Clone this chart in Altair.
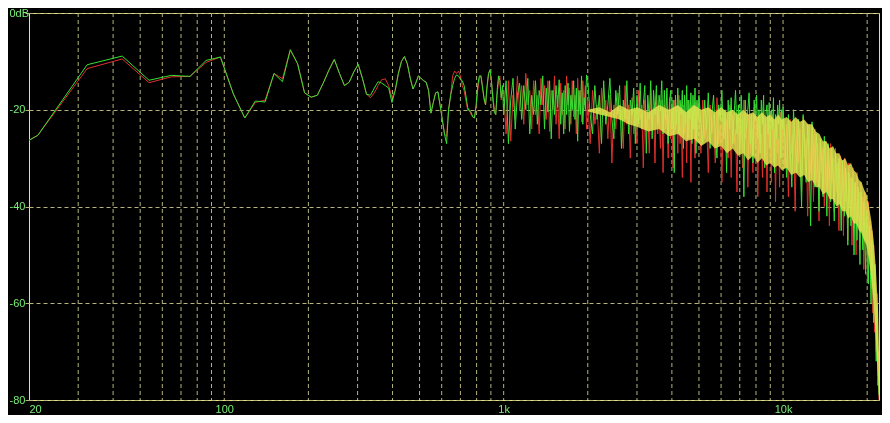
import altair as alt
import pandas as pd

# ---------------- data ----------------
freq_low = [20, 21.5, 32.3, 43.1, 53.8, 64.6, 75.4, 86.1, 96.9, 107.7, 118.4, 129.2, 140,
            150.7, 161.5, 172.3, 183, 193.8, 204.6, 215.3, 226, 236.9, 247.6, 258.4, 269.2,
            280, 290.7, 301.5, 312.2, 323, 333.8, 344.5, 355.3, 366, 376.8, 387.6, 398.3]
red_low = [-26.3, -25.3, -11.5, -9.5, -14.4, -13.2, -13.1, -10.2, -9.1, -16.7, -21.7, -18.5, -18.0,
           -12.5, -13.6, -7.6, -10.5, -16.5, -17.4, -17.0, -14.5, -11.8, -9.6, -12.5, -15.0,
           -14.3, -12.2, -10.6, -13.5, -16.8, -17.5, -16.5, -15.0, -13.8, -13.6, -15.0, -17.5]
green_low = [-26.3, -25.3, -10.7, -8.9, -13.9, -12.9, -13.1, -9.8, -9.1, -16.7, -21.7, -18.2, -18.4,
             -12.5, -14.2, -7.6, -10.5, -16.5, -17.4, -17.0, -14.5, -11.8, -9.6, -12.5, -15.0,
             -14.3, -12.2, -10.6, -13.5, -16.8, -17.0, -15.5, -14.2, -14.5, -15.0, -15.5, -18.5]

freq_mid = [409, 419.8, 430.7, 441.4, 452, 463, 473.7, 484.5, 495,
            506, 517, 527.7, 538.5, 549, 560, 570.8, 581.5, 592,
            603, 614, 624.6, 635, 646, 657, 667.5, 678, 689,
            700, 710.9, 721.6, 732, 743, 754, 764.7, 775.5, 786,
            797, 807.5, 818.5, 829, 840, 850.6, 861.3, 872, 883,
            893.7, 904.5, 915, 926, 936.9, 947.7, 958.5, 969, 980, 990.8]
red_mid = [-16, -12.5, -10, -9, -10.5, -13.5, -15.7, -14.5, -13,
           -13.5, -14, -14.3, -16, -20.7, -18.5, -16.5, -16.3, -19,
           -22, -25, -25.5, -20, -17, -13, -12, -12.5, -12,
           -13, -15, -16, -18, -20, -20, -21, -21.5, -21.7,
           -19.5, -16, -13.5, -13, -15, -18, -19, -15.5, -12.5,
           -12, -14.5, -17, -20, -21, -17, -14, -13, -18, -16]
green_mid = [-16, -12.5, -10, -9, -10.5, -13.5, -15.7, -14.5, -13,
             -13.5, -14, -14.3, -16, -20.7, -18.5, -16.5, -16.3, -19,
             -22, -25, -27, -20, -17, -15, -13.5, -12.8, -13,
             -13.7, -14, -15, -17, -19.5, -20.3, -20.5, -21.5, -21.7,
             -19, -15, -13, -13, -15.5, -17.5, -19, -15, -12.5,
             -11.7, -14, -18, -20.5, -21, -16, -13, -14, -17.5, -15]

freq_a = [1000, 1020, 1040, 1060, 1080, 1100, 1120, 1140, 1160, 1180,
          1200, 1220, 1240, 1260, 1280, 1300, 1320, 1340, 1360, 1380,
          1400, 1420, 1440, 1460, 1480, 1500, 1520, 1540, 1560, 1580,
          1600, 1620, 1640, 1660, 1680, 1700, 1720, 1740, 1760, 1780,
          1800, 1820, 1840, 1860, 1880, 1900, 1920, 1940, 1960, 1980]
red_a = [-16, -25, -14, -26.5, -17, -22, -13, -20, -15, -23,
         -12.5, -19, -16, -24, -14, -21, -17, -25, -13.5, -19,
         -15, -22, -14, -24.5, -16, -20, -13, -23, -17, -26,
         -14.5, -21, -16, -24, -13, -19, -15.5, -23, -14, -21.5,
         -17, -25, -13.5, -20, -16, -22.5, -14, -19, -15, -24]
green_a = [-21, -14, -27, -18, -13.5, -24, -17, -14.5, -22, -15,
           -20, -13.5, -25, -17, -21, -14, -23, -16, -19, -13,
           -24, -15.5, -20.5, -14, -26, -16, -21, -15, -19.5, -13.8,
           -23, -16.5, -25, -15, -21, -14.5, -24.5, -17, -20, -14,
           -22, -15.5, -26.5, -16, -21, -13, -23, -17.5, -20, -12.8]

freq_b = [2000, 2040, 2080, 2120, 2160, 2200, 2240, 2280, 2320, 2360,
          2400, 2440, 2480, 2520, 2560, 2600, 2640, 2680, 2720, 2760,
          2800, 2840, 2880, 2920, 2960, 3000, 3040, 3080, 3120, 3160,
          3200, 3240, 3280, 3320, 3360, 3400, 3440, 3480, 3520, 3560,
          3600, 3640, 3680, 3720, 3760, 3800, 3840, 3880, 3920, 3960,
          4000, 4040, 4080, 4120, 4160, 4200, 4240, 4280, 4320, 4360,
          4400, 4440, 4480, 4520, 4560, 4600, 4640, 4680, 4720, 4760,
          4800, 4840, 4880, 4920, 4960]
red_b = [-18, -27, -16, -23, -19, -29, -15.5, -21, -18, -26,
         -17, -31, -19, -24, -16.5, -22, -20, -28, -15, -23,
         -19, -30, -17.5, -25, -20, -27, -16, -22, -19, -32,
         -18, -24, -21, -29, -16, -23, -19.5, -31, -17, -25,
         -20, -28, -18, -33, -19, -24, -21, -30, -17.5, -26,
         -20, -32, -18, -24, -21, -29, -17, -27, -20, -34,
         -19, -25, -22, -31, -18, -26, -21, -35, -19, -24,
         -22, -30, -18.5, -27, -21]
green_b = [-14, -21, -25, -15, -22, -17, -27, -14, -23, -19,
           -13.5, -22, -26, -16, -21, -15, -28, -18, -22, -14,
           -25, -18, -21, -15.5, -27, -17, -23, -14.5, -24, -19,
           -15, -29, -17, -22, -14, -26, -16, -21, -15, -23,
           -17, -20, -14, -25, -16, -22, -15.5, -27, -19, -16,
           -24, -18, -33, -17, -23, -15.5, -25, -18, -21, -16,
           -28, -17, -23, -15, -26, -18, -22, -16.5, -27, -17,
           -24, -15.5, -29, -18, -22]

freq_c = [5000, 5080, 5160, 5240, 5320, 5400, 5480, 5560, 5640, 5720,
          5800, 5880, 5960, 6040, 6120, 6200, 6280, 6360, 6440, 6520,
          6600, 6680, 6760, 6840, 6920, 7000, 7080, 7160, 7240, 7320,
          7400, 7480, 7560, 7640, 7720, 7800, 7880, 7960, 8040, 8120,
          8200, 8280, 8360, 8440, 8520, 8600, 8680, 8760, 8840, 8920,
          9000, 9080, 9160, 9240, 9320, 9400, 9480, 9560, 9640, 9720,
          9800, 9880, 9960]
red_c = [-20, -29, -18, -26, -22, -33, -19, -25, -21, -31,
         -17.5, -27, -23, -35, -20, -26, -22, -30, -19, -34,
         -21, -27, -24, -37, -20, -28, -22, -32, -18, -26,
         -23, -36, -21, -29, -24, -33, -19.5, -28, -22, -38,
         -21, -27, -25, -34, -20, -30, -23, -37, -22, -28,
         -25, -35, -21, -31, -24, -39, -22, -29, -26, -36,
         -20.5, -30, -25]
green_c = [-17, -23, -27, -18, -24, -16.5, -28, -21, -17, -25,
           -30, -19, -22, -16, -26, -20, -33, -18, -24, -17.5,
           -27, -21, -16, -25, -19, -29, -17, -23, -38, -18,
           -24, -20, -16.5, -27, -21, -31, -18, -22, -17, -26,
           -20, -29, -18, -23, -17, -32, -21, -19, -25, -18.5,
           -28, -20, -24, -17.5, -33, -21, -26, -19, -23, -18,
           -30, -20, -24]

freq_d = [10000, 10150, 10300, 10450, 10600, 10750, 10900, 11050, 11200, 11350,
          11500, 11650, 11800, 11950, 12100, 12250, 12400, 12550, 12700, 12850,
          13000, 13150, 13300, 13450, 13600, 13750, 13900, 14050, 14200, 14350,
          14500, 14650, 14800, 14950, 15100, 15250, 15400, 15550, 15700, 15850,
          16000, 16150, 16300, 16450, 16600, 16750, 16900, 17050, 17200, 17350,
          17500, 17650, 17800, 17950, 18100, 18250, 18400, 18550, 18700, 18850,
          19000, 19150, 19300, 19450, 19600, 19750, 19900, 20050, 20200, 20350,
          20500, 20650, 20800, 20950, 21100, 21250, 21400, 21550, 21700, 21850,
          21950, 22050]
red_d = [-21, -32, -23, -38, -22, -29, -25, -41, -22, -31,
         -24, -37, -21.5, -30, -26, -42, -23, -33, -25, -39,
         -24, -35, -27, -43, -26, -33, -28, -40, -26.5, -36,
         -29, -44, -27, -35, -30, -41, -28, -37, -31, -45,
         -29.5, -38, -32, -46, -30, -39, -33, -47, -31, -40,
         -34, -48, -32, -41, -35, -50, -33, -43, -37, -49,
         -35, -45, -38, -53, -37, -47, -40, -55, -39, -50,
         -43, -57, -45, -62, -48, -66, -52, -70, -58, -75,
         -70, -80]
green_d = [-19.5, -26, -34, -21, -28, -36, -20, -27, -33, -22,
           -29, -40, -21, -27, -35, -23, -30, -44, -22.5, -28,
           -36, -25, -31, -41, -26, -30, -38, -25.5, -33, -42,
           -27, -32, -39, -28, -34, -43, -29, -33, -40, -30,
           -36, -45, -30.5, -35, -42, -32, -37, -48, -33, -38,
           -44, -34, -39, -50, -35, -41, -47, -36, -42, -52,
           -37, -44, -49, -39, -46, -54, -41, -48, -56, -44,
           -51, -60, -47, -55, -64, -52, -62, -72, -60, -77,
           -74, -79]

# dense yellow core where the two channels overlap (upper / lower edge, dB)
core_freq = [2000, 2200, 2400, 2600, 2800,
             3000, 3300, 3600, 3900, 4200, 4500, 4800, 5100, 5400, 5700,
             6000, 6300, 6600, 6900, 7200, 7500, 7800, 8100, 8400, 8700,
             9000, 9300, 9600, 9900,
             10300, 10700, 11100, 11500, 11900, 12300, 12700, 13100, 13500, 13900,
             14300, 14700, 15100, 15500, 15900, 16300, 16700, 17100, 17500, 17900,
             18300, 18700, 19100, 19500, 19900, 20300, 20700, 21100, 21500, 21900,
             22050]
core_hi = [-20, -19.5, -20.5, -19, -20,
           -19.5, -20.5, -19, -20, -19, -20.5, -19, -20, -19.5, -20.5,
           -19.5, -20.5, -20, -21, -20, -21, -20.5, -21.5, -20.5, -21.5,
           -21, -22, -21, -22,
           -21.5, -22.5, -21.5, -22.5, -22, -23, -23, -24.5, -25, -26.5,
           -26.5, -28, -27.5, -29, -29, -30.5, -30, -31.5, -31, -32.5,
           -33, -34.5, -35, -36.5, -37.5, -40, -43, -47, -53, -62,
           -70]
core_lo = [-20.3, -21, -21.5, -22, -23,
           -23.5, -24.5, -24, -25.5, -25, -26.5, -26, -27.5, -26.5, -28,
           -27.5, -29, -28, -29.5, -29, -30.5, -29.5, -31, -30, -31.5,
           -31, -32, -31.5, -32.5,
           -32, -33.5, -33, -34, -33.5, -35, -34.5, -36, -36, -37.5,
           -37, -38.5, -38.5, -40, -39.5, -41, -41, -42.5, -42, -43.5,
           -43.5, -45, -45.5, -47, -48, -51, -55, -60, -68, -76,
           -80]

x_tick_values = [20, 100, 1000, 10000]
x_tick_labels = ["20", "100", "1k", "10k"]
x_grid_values = [30, 40, 50, 60, 70, 80, 90, 100, 200, 300, 400, 500, 600, 700, 800, 900,
                 1000, 2000, 3000, 4000, 5000, 6000, 7000, 8000, 9000, 10000, 20000]
y_tick_values = [0, -20, -40, -60, -80]
y_tick_labels = ["0dB", "-20", "-40", "-60", "-80"]

# ---------------- styling ----------------
BG = "#000000"
BORDER = "#e4e47a"
GRID = "#b4b47c"
LABEL = "#78ee78"
RED = "#e0302c"
GREEN = "#34e034"
YELLOW = "#e6e650"
FONT = "Liberation Sans"

freqs = freq_low + freq_mid + freq_a + freq_b + freq_c + freq_d
reds = red_low + red_mid + red_a + red_b + red_c + red_d
greens = green_low + green_mid + green_a + green_b + green_c + green_d
df = pd.DataFrame({"freq": freqs, "red": reds, "green": greens})
grid_df = pd.DataFrame({"freq": x_grid_values})
core_df = pd.DataFrame({"freq": core_freq, "hi": core_hi, "lo": core_lo})


def label_expr(values, labels):
    expr = "''"
    for v, l in reversed(list(zip(values, labels))):
        expr = f"datum.value == {v} ? '{l}' : ({expr})"
    return expr


x_scale = alt.Scale(type="log", domain=[20, 22050], nice=False)
y_scale = alt.Scale(domain=[-80, 0], nice=False)

x_axis = alt.Axis(values=x_tick_values, labelExpr=label_expr(x_tick_values, x_tick_labels),
                  grid=False, ticks=False, domain=False, labelColor=LABEL, labelFont=FONT,
                  labelFontSize=11, labelPadding=3, labelFlush=True, title=None)
y_axis = alt.Axis(values=y_tick_values, labelExpr=label_expr(y_tick_values, y_tick_labels),
                  grid=True, gridColor=GRID, gridDash=[4, 3], gridWidth=1, gridOpacity=1,
                  ticks=True, tickColor=GRID, tickSize=4, domain=False, labelColor=LABEL,
                  labelFont=FONT, labelFontSize=11, labelAlign="left", labelPadding=16,
                  title=None)

grid = alt.Chart(grid_df).mark_rule(color=GRID, strokeDash=[4, 3], strokeWidth=1).encode(
    x=alt.X("freq:Q", scale=x_scale, axis=x_axis)
)

red_line = alt.Chart(df).mark_line(color=RED, strokeWidth=1, blend="screen", clip=True,
                                   strokeJoin="round").encode(
    x=alt.X("freq:Q", scale=x_scale, axis=x_axis),
    y=alt.Y("red:Q", scale=y_scale, axis=y_axis),
)
green_line = alt.Chart(df).mark_line(color=GREEN, strokeWidth=1, blend="screen", clip=True,
                                     strokeJoin="round").encode(
    x=alt.X("freq:Q", scale=x_scale, axis=x_axis),
    y=alt.Y("green:Q", scale=y_scale, axis=y_axis),
)

core = alt.Chart(core_df).mark_area(color=YELLOW, opacity=0.82, clip=True).encode(
    x=alt.X("freq:Q", scale=x_scale, axis=x_axis),
    y=alt.Y("hi:Q", scale=y_scale, axis=y_axis),
    y2="lo:Q",
)

chart = alt.layer(grid, red_line, green_line, core).properties(
    width=850,
    height=387,
    padding={"left": 21, "top": 5, "right": 3, "bottom": 15},
    autosize=alt.AutoSizeParams(type="none"),
    background=BG,
).configure_view(stroke=BORDER, strokeWidth=1, fill=BG)

chart.save("out.html", embed_options={"renderer": "svg", "actions": False})
